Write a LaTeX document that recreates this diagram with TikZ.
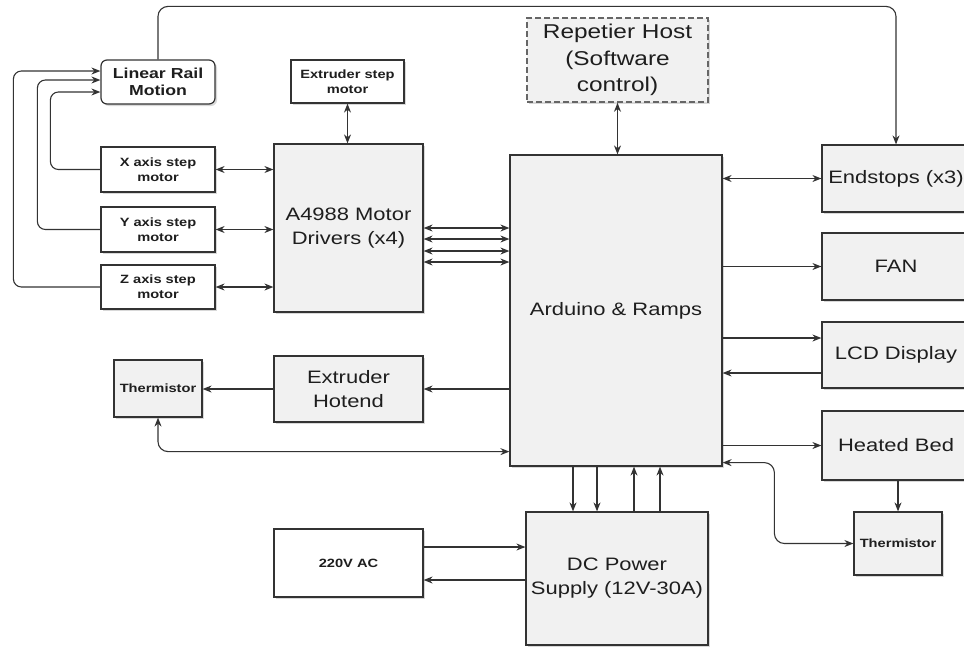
\documentclass[tikz,border=0pt]{standalone}
\usepackage{fontspec}
\setmainfont{Liberation Sans}[FakeStretch=1.22]
\usetikzlibrary{arrows.meta,shadows,calc}
\definecolor{boxgray}{HTML}{F1F1F1}
\definecolor{linecol}{HTML}{333333}
\definecolor{txt}{HTML}{1E1E1E}
\tikzset{
  base/.style={draw=linecol, line width=1.2pt, text=txt, align=center, inner sep=1pt,
    drop shadow={shadow xshift=2pt, shadow yshift=-2pt, opacity=0.3, fill=gray}},
  gbox/.style={base, fill=boxgray, font=\fontsize{18}{24}\selectfont},
  wbox/.style={base, fill=white, font=\bfseries\fontsize{12}{15}\selectfont},
  tbox/.style={base, fill=boxgray, font=\bfseries\fontsize{12}{15}\selectfont},
  arr/.style={draw=linecol, line width=1.1pt, -{Stealth[length=9pt,width=7pt]}},
  darr/.style={draw=linecol, line width=1.1pt, {Stealth[length=9pt,width=7pt]}-{Stealth[length=9pt,width=7pt]}},
}
\begin{document}
\begin{tikzpicture}[x=1pt,y=-1pt]
\useasboundingbox (0,0) rectangle (964,648);
\clip (0,0) rectangle (964,648);
\fill[white] (0,0) rectangle (964,648);
% nodes
\node[wbox, rounded corners=6pt, minimum width=114pt, minimum height=44pt, font=\bfseries\fontsize{14.5}{17}\selectfont] (rail) at (158,82) {Linear Rail\\Motion};
\node[wbox, minimum width=113pt, minimum height=43pt] (estep) at (347.5,81.5) {Extruder step\\motor};
\node[wbox, minimum width=114pt, minimum height=45pt] (xm) at (158,169.5) {X axis step\\motor};
\node[wbox, minimum width=114pt, minimum height=45pt] (ym) at (158,229.5) {Y axis step\\motor};
\node[wbox, minimum width=114pt, minimum height=44pt] (zm) at (158,287) {Z axis step\\motor};
\node[gbox, minimum width=149pt, minimum height=168pt] (drv) at (348.5,228) {A4988 Motor\\Drivers (x4)};
\node[tbox, minimum width=88pt, minimum height=57pt] (thl) at (158,388.5) {Thermistor};
\node[gbox, minimum width=149pt, minimum height=66pt] (hot) at (348.5,389) {Extruder\\Hotend};
\node[wbox, minimum width=149pt, minimum height=68pt] (ac) at (348.5,563) {220V AC};
\node[gbox, draw=gray!80!black, line width=1.6pt, dash pattern=on 6pt off 3pt, minimum width=181pt, minimum height=84pt, font=\fontsize{20}{26.5}\selectfont] (rep) at (617.5,60) {Repetier Host\\(Software\\control)};
\node[gbox, minimum width=212pt, minimum height=311pt] (ard) at (616,310.5) {Arduino \& Ramps};
\node[gbox, minimum width=182pt, minimum height=133pt] (dc) at (617,578.5) {DC Power\\Supply (12V-30A)};
\node[gbox, minimum width=148pt, minimum height=67pt] (end) at (896,178.5) {Endstops (x3)};
\node[gbox, minimum width=148pt, minimum height=67pt] (fan) at (896,266.5) {FAN};
\node[gbox, minimum width=148pt, minimum height=66pt] (lcd) at (896,355) {LCD Display};
\node[gbox, minimum width=148pt, minimum height=69pt] (bed) at (896,445.5) {Heated Bed};
\node[tbox, minimum width=88pt, minimum height=63pt] (thr) at (898,543.5) {Thermistor};
% loops to linear rail
\draw[arr, rounded corners=8pt] (xm.west) -- ++(-50,0) |- ([yshift=-10pt]rail.west);
\draw[arr, rounded corners=8pt] (ym.west) -- ++(-63,0) |- ([yshift=2pt]rail.west);
\draw[arr, rounded corners=8pt] (zm.west) -- ++(-87,0) |- ([yshift=11pt]rail.west);
% motors to drivers
\draw[darr] (xm.east) -- (xm.east -| drv.west);
\draw[darr] (ym.east) -- (ym.east -| drv.west);
\draw[darr] (zm.east) -- (zm.east -| drv.west);
\draw[darr] (estep.south) -- (estep.south |- drv.north);
% drivers to arduino
\path ([yshift=0pt]drv.east) coordinate (d1)
      ([yshift=-11pt]drv.east) coordinate (d2)
      ([yshift=-23pt]drv.east) coordinate (d3)
      ([yshift=-34pt]drv.east) coordinate (d4);
\foreach \c in {d1,d2,d3,d4} \draw[darr] (\c) -- (\c -| ard.west);
% top line
\draw[arr, rounded corners=10pt] (rail.north) -- ++(0,-53) -| (end.north);
% repetier
\draw[darr] (rep.south) -- (rep.south |- ard.north);
% right side
\draw[darr] (end.west -| ard.east) -- (end.west);
\draw[arr] (fan.west -| ard.east) -- (fan.west);
\path ([yshift=17pt]lcd.west) coordinate (l1) ([yshift=-18pt]lcd.west) coordinate (l2);
\draw[arr] (l1 -| ard.east) -- (l1);
\draw[arr] (l2) -- (l2 -| ard.east);
\draw[arr] (bed.west -| ard.east) -- (bed.west);
\draw[arr] (thr.north |- bed.south) -- (thr.north);
\draw[darr, rounded corners=10pt] (thr.west) -- ++(-79,0) |- ([yshift=4pt]ard.south east);
% left side
\draw[arr] (hot.east -| ard.west) -- (hot.east);
\draw[arr] (hot.west) -- (hot.west -| thl.east);
\draw[darr, rounded corners=10pt] ([yshift=15pt]ard.south west) -| (thl.south);
% arduino and power
\path ([xshift=-43pt]ard.south) coordinate (p1)
      ([xshift=-19pt]ard.south) coordinate (p2)
      ([xshift=18pt]ard.south) coordinate (p3)
      ([xshift=44pt]ard.south) coordinate (p4);
\draw[arr] (p1) -- (p1 |- dc.north);
\draw[arr] (p2) -- (p2 |- dc.north);
\draw[arr] (p3 |- dc.north) -- (p3);
\draw[arr] (p4 |- dc.north) -- (p4);
\path ([yshift=16pt]ac.east) coordinate (a1) ([yshift=-17pt]ac.east) coordinate (a2);
\draw[arr] (a1) -- (a1 -| dc.west);
\draw[arr] (a2 -| dc.west) -- (a2);
\end{tikzpicture}
\end{document}
